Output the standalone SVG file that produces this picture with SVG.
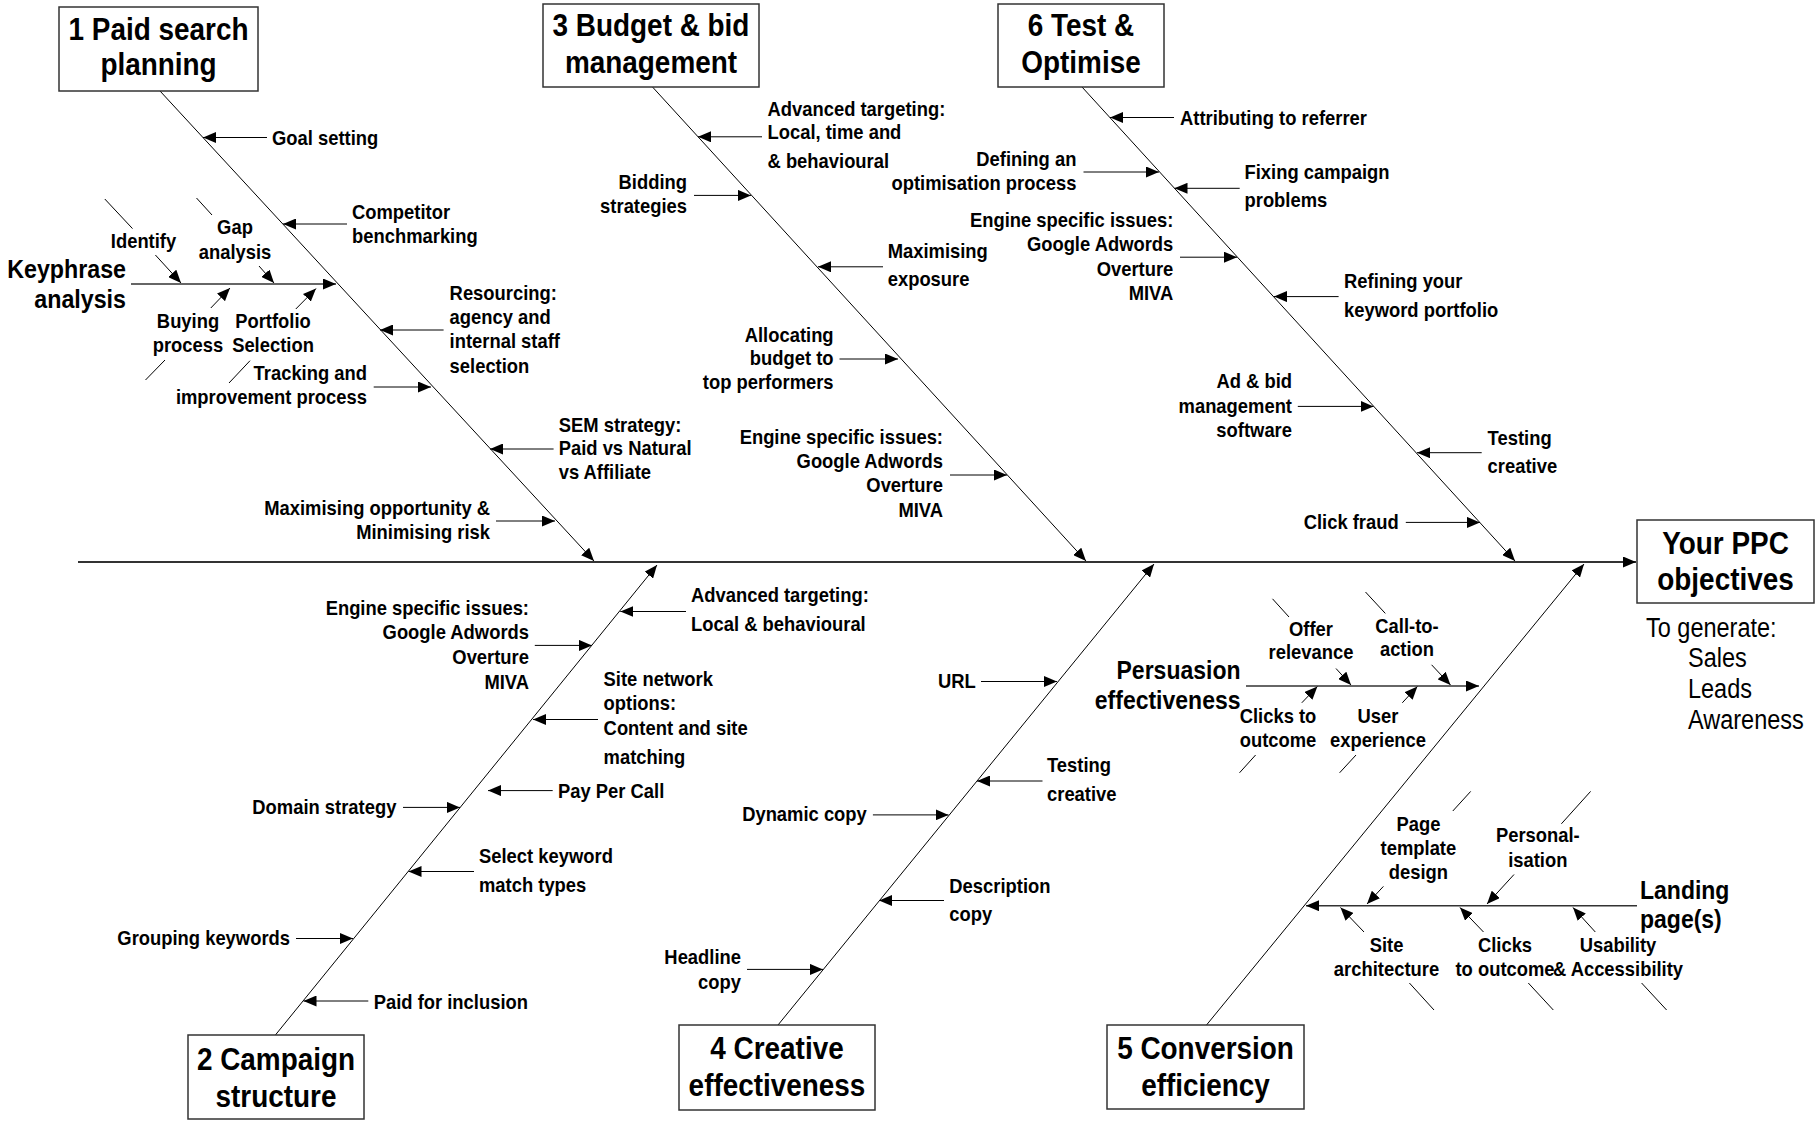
<svg xmlns="http://www.w3.org/2000/svg" width="1816" height="1124" viewBox="0 0 1816 1124">
<style>
text{font-family:"Liberation Sans",Arial,sans-serif;fill:#000}
.t{font-weight:bold;font-size:30.5px;text-anchor:middle}
.l{font-weight:bold;font-size:20px}
.s{font-weight:bold;font-size:25px}
.r{font-size:27px}
.e{text-anchor:end}
.m{text-anchor:middle}
.box{fill:#fff;stroke:#333;stroke-width:1.5}
.c line,.c path{stroke:#000;stroke-width:1;fill:none}
.c .a{marker-end:url(#ah)}
.c .sp{stroke:#333;stroke-width:2}
.c .sub{stroke:#333;stroke-width:1.5}
</style>
<defs>
<marker id="ah" markerWidth="13" markerHeight="11" refX="13" refY="5.5" orient="auto" markerUnits="userSpaceOnUse"><path d="M0,0 L13,5.5 L0,11 z" fill="#000"/></marker>
</defs>
<rect width="1816" height="1124" fill="#fff"/>

<g id="connectors" class="c">
<line class="sp a" x1="78" y1="562" x2="1636" y2="562"/>
<line class="a" x1="160" y1="91" x2="594" y2="561"/>
<line class="a" x1="652.5" y1="87" x2="1086" y2="561"/>
<line class="a" x1="1082" y1="87" x2="1515" y2="561"/>
<line class="a" x1="275.4" y1="1035" x2="657" y2="565"/>
<line class="a" x1="778" y1="1025" x2="1154" y2="564"/>
<line class="a" x1="1206.5" y1="1025" x2="1584" y2="564"/>
<!-- bone 1 -->
<line class="a" x1="267" y1="137.5" x2="203" y2="137.5"/>
<line class="a" x1="347" y1="224" x2="283" y2="224"/>
<line class="a" x1="443.6" y1="330" x2="380" y2="330"/>
<line class="a" x1="373.7" y1="387" x2="431" y2="387"/>
<line class="a" x1="553.6" y1="449" x2="490" y2="449"/>
<line class="a" x1="496" y1="521" x2="555" y2="521"/>
<line class="sub a" x1="131" y1="284" x2="336" y2="284"/>
<line class="a" x1="155.4" y1="255" x2="181" y2="283"/>
<line class="a" x1="259" y1="266" x2="274" y2="283"/>
<line class="a" x1="210.8" y1="308" x2="230" y2="288"/>
<line class="a" x1="295.8" y1="309" x2="316" y2="288.6"/>
<line x1="104.8" y1="199" x2="132.5" y2="228.6"/>
<line x1="196.5" y1="198" x2="212" y2="215"/>
<line x1="165" y1="360" x2="145.5" y2="380"/>
<line x1="250" y1="360.7" x2="229" y2="383"/>
<!-- bone 3 -->
<line class="a" x1="762" y1="136.8" x2="698" y2="136.8"/>
<line class="a" x1="694" y1="195.4" x2="751" y2="195.4"/>
<line class="a" x1="883" y1="266.8" x2="818" y2="266.8"/>
<line class="a" x1="839.5" y1="359" x2="898" y2="359"/>
<line class="a" x1="950" y1="475" x2="1007" y2="475"/>
<!-- bone 6 -->
<line class="a" x1="1174" y1="117.5" x2="1110" y2="117.5"/>
<line class="a" x1="1083.5" y1="172" x2="1159" y2="172"/>
<line class="a" x1="1239.7" y1="188.3" x2="1174.5" y2="188.3"/>
<line class="a" x1="1180" y1="257.2" x2="1237" y2="257.2"/>
<line class="a" x1="1338.6" y1="296.6" x2="1274" y2="296.6"/>
<line class="a" x1="1297.8" y1="406.4" x2="1373.5" y2="406.4"/>
<line class="a" x1="1481.7" y1="452.7" x2="1417" y2="452.7"/>
<line class="a" x1="1405.8" y1="522.4" x2="1480" y2="522.4"/>
<!-- bone 2 -->
<line class="a" x1="534.8" y1="645.4" x2="592" y2="645.4"/>
<line class="a" x1="686" y1="611.5" x2="620.3" y2="611.5"/>
<line class="a" x1="598" y1="719.5" x2="533" y2="719.5"/>
<line class="a" x1="552.7" y1="790.6" x2="488" y2="790.6"/>
<line class="a" x1="403" y1="807.4" x2="460" y2="807.4"/>
<line class="a" x1="474" y1="871.5" x2="408.5" y2="871.5"/>
<line class="a" x1="296" y1="938.5" x2="353" y2="938.5"/>
<line class="a" x1="368.3" y1="1001" x2="303.5" y2="1001"/>
<!-- bone 4 -->
<line class="a" x1="981" y1="681.5" x2="1057" y2="681.5"/>
<line class="a" x1="1042.5" y1="781" x2="977" y2="781"/>
<line class="a" x1="872.9" y1="814.9" x2="948.5" y2="814.9"/>
<line class="a" x1="944" y1="900.5" x2="879" y2="900.5"/>
<line class="a" x1="747" y1="969.4" x2="823" y2="969.4"/>
<!-- bone 5 persuasion -->
<line class="sub a" x1="1246" y1="686" x2="1479" y2="686"/>
<line class="a" x1="1336" y1="668.5" x2="1351" y2="685"/>
<line class="a" x1="1431.6" y1="664.8" x2="1450.5" y2="685"/>
<line class="a" x1="1301.8" y1="702.8" x2="1317.4" y2="686.5"/>
<line class="a" x1="1402.3" y1="702.8" x2="1417.4" y2="686.5"/>
<line x1="1272.5" y1="598.8" x2="1289" y2="617"/>
<line x1="1365.5" y1="592" x2="1385.3" y2="613.4"/>
<line x1="1255.6" y1="755" x2="1239.5" y2="772.8"/>
<line x1="1356" y1="755" x2="1339.6" y2="772.8"/>
<!-- bone 5 landing -->
<line class="sub a" x1="1637" y1="905.7" x2="1306" y2="905.7"/>
<line class="a" x1="1383.4" y1="886.4" x2="1367" y2="904"/>
<line class="a" x1="1514" y1="874.5" x2="1487" y2="904"/>
<line class="a" x1="1364" y1="932" x2="1340.5" y2="907.5"/>
<line class="a" x1="1483.5" y1="932" x2="1460" y2="907.5"/>
<line class="a" x1="1595.3" y1="932" x2="1573" y2="907.5"/>
<line x1="1470.7" y1="791.4" x2="1452.8" y2="811"/>
<line x1="1590.6" y1="791.4" x2="1561.4" y2="823.8"/>
<line x1="1409.4" y1="983" x2="1434" y2="1010"/>
<line x1="1528.3" y1="983" x2="1553.3" y2="1010"/>
<line x1="1641.6" y1="983" x2="1666.6" y2="1010"/>
</g>

<g id="box-1"><rect class="box" x="59" y="7" width="199" height="84"/><text class="t" transform="translate(158.5 40) scale(.915 1)">1 Paid search<tspan x="0" y="35.5">planning</tspan></text></g>
<g id="box-3"><rect class="box" x="543" y="4" width="216" height="83"/><text class="t" transform="translate(651 36) scale(.915 1)">3 Budget &amp; bid<tspan x="0" y="37">management</tspan></text></g>
<g id="box-6"><rect class="box" x="998" y="4" width="166" height="83"/><text class="t" transform="translate(1081 36.4) scale(.915 1)">6 Test &amp;<tspan x="0" y="37">Optimise</tspan></text></g>
<g id="box-2"><rect class="box" x="188" y="1035" width="176" height="84"/><text class="t" transform="translate(276 1070) scale(.915 1)">2 Campaign<tspan x="0" y="37">structure</tspan></text></g>
<g id="box-4"><rect class="box" x="679" y="1025" width="196" height="85"/><text class="t" transform="translate(777 1058.5) scale(.915 1)">4 Creative<tspan x="0" y="37.5">effectiveness</tspan></text></g>
<g id="box-5"><rect class="box" x="1107" y="1025" width="197" height="84"/><text class="t" transform="translate(1205.5 1058.5) scale(.915 1)">5 Conversion<tspan x="0" y="37.5">efficiency</tspan></text></g>
<g id="box-ppc"><rect class="box" x="1637" y="520" width="177" height="83"/><text class="t" transform="translate(1725.5 553.5) scale(.915 1)">Your PPC<tspan x="0" y="36.5">objectives</tspan></text>
<text class="r" transform="translate(1646 637) scale(.87 1)">To generate:</text>
<text class="r" transform="translate(1688 666.5) scale(.87 1)">Sales<tspan x="0" y="31.5">Leads</tspan><tspan x="0" y="63">Awareness</tspan></text></g>

<g id="n-goal"><text class="l" transform="translate(272 144.6) scale(.92 1)">Goal setting</text></g>
<g id="n-competitor"><text class="l" transform="translate(352 218.6) scale(.92 1)">Competitor<tspan x="0" y="24.4">benchmarking</tspan></text></g>
<g id="n-resourcing"><text class="l" transform="translate(449.6 300) scale(.92 1)">Resourcing:<tspan x="0" y="24">agency and</tspan><tspan x="0" y="48">internal staff</tspan><tspan x="0" y="73">selection</tspan></text></g>
<g id="n-tracking"><text class="l e" transform="translate(367 380) scale(.92 1)">Tracking and<tspan x="0" y="24">improvement process</tspan></text></g>
<g id="n-sem"><text class="l" transform="translate(558.7 431.5) scale(.92 1)">SEM strategy:<tspan x="0" y="23.5">Paid vs Natural</tspan><tspan x="0" y="48">vs Affiliate</tspan></text></g>
<g id="n-maxopp"><text class="l e" transform="translate(490 514.5) scale(.92 1)">Maximising opportunity &amp;<tspan x="0" y="25">Minimising risk</tspan></text></g>
<g id="n-keyphrase"><text class="s e" transform="translate(126 278) scale(.93 1)">Keyphrase<tspan x="0" y="30">analysis</tspan></text></g>
<g id="n-identify"><text class="l m" transform="translate(143.5 248) scale(.92 1)">Identify</text></g>
<g id="n-gap"><text class="l m" transform="translate(235 234) scale(.92 1)">Gap<tspan x="0" y="25">analysis</tspan></text></g>
<g id="n-buying"><text class="l m" transform="translate(188 327.5) scale(.92 1)">Buying<tspan x="0" y="25">process</tspan></text></g>
<g id="n-portfolio"><text class="l m" transform="translate(273 328) scale(.92 1)">Portfolio<tspan x="0" y="24.5">Selection</tspan></text></g>

<g id="n-advtarget1"><text class="l" transform="translate(767.5 115.5) scale(.92 1)">Advanced targeting:<tspan x="0" y="24">Local, time and</tspan><tspan x="0" y="53">&amp; behavioural</tspan></text></g>
<g id="n-bidding"><text class="l e" transform="translate(687 188.5) scale(.92 1)">Bidding<tspan x="0" y="25">strategies</tspan></text></g>
<g id="n-maxexp"><text class="l" transform="translate(887.7 257.5) scale(.92 1)">Maximising<tspan x="0" y="28.7">exposure</tspan></text></g>
<g id="n-allocating"><text class="l e" transform="translate(833.6 341.5) scale(.92 1)">Allocating<tspan x="0" y="24">budget to</tspan><tspan x="0" y="48">top performers</tspan></text></g>
<g id="n-engine3"><text class="l e" transform="translate(943 443.5) scale(.92 1)">Engine specific issues:<tspan x="0" y="25">Google Adwords</tspan><tspan x="0" y="49">Overture</tspan><tspan x="0" y="74">MIVA</tspan></text></g>

<g id="n-attributing"><text class="l" transform="translate(1180 125) scale(.92 1)">Attributing to referrer</text></g>
<g id="n-defining"><text class="l e" transform="translate(1076.4 165.8) scale(.92 1)">Defining an<tspan x="0" y="24.7">optimisation process</tspan></text></g>
<g id="n-fixing"><text class="l" transform="translate(1244.5 179.2) scale(.92 1)">Fixing campaign<tspan x="0" y="28">problems</tspan></text></g>
<g id="n-engine6"><text class="l e" transform="translate(1173.3 227) scale(.92 1)">Engine specific issues:<tspan x="0" y="24.1">Google Adwords</tspan><tspan x="0" y="48.9">Overture</tspan><tspan x="0" y="73.1">MIVA</tspan></text></g>
<g id="n-refining"><text class="l" transform="translate(1344 287.5) scale(.92 1)">Refining your<tspan x="0" y="29.9">keyword portfolio</tspan></text></g>
<g id="n-adbid"><text class="l e" transform="translate(1292 387.8) scale(.92 1)">Ad &amp; bid<tspan x="0" y="25.3">management</tspan><tspan x="0" y="49">software</tspan></text></g>
<g id="n-testing6"><text class="l" transform="translate(1487.6 444.5) scale(.92 1)">Testing<tspan x="0" y="28.6">creative</tspan></text></g>
<g id="n-clickfraud"><text class="l e" transform="translate(1398.7 528.5) scale(.92 1)">Click fraud</text></g>

<g id="n-engine2"><text class="l e" transform="translate(529 615) scale(.92 1)">Engine specific issues:<tspan x="0" y="24.2">Google Adwords</tspan><tspan x="0" y="49.5">Overture</tspan><tspan x="0" y="74.5">MIVA</tspan></text></g>
<g id="n-advtarget2"><text class="l" transform="translate(691 602) scale(.92 1)">Advanced targeting:<tspan x="0" y="29.5">Local &amp; behavioural</tspan></text></g>
<g id="n-sitenetwork"><text class="l" transform="translate(603.6 685.5) scale(.92 1)">Site network<tspan x="0" y="24.5">options:</tspan><tspan x="0" y="49.4">Content and site</tspan><tspan x="0" y="78.5">matching</tspan></text></g>
<g id="n-ppcall"><text class="l" transform="translate(558 797.5) scale(.92 1)">Pay Per Call</text></g>
<g id="n-domain"><text class="l e" transform="translate(396.4 814.2) scale(.92 1)">Domain strategy</text></g>
<g id="n-selectkw"><text class="l" transform="translate(479 862.5) scale(.92 1)">Select keyword<tspan x="0" y="30">match types</tspan></text></g>
<g id="n-grouping"><text class="l e" transform="translate(290 944.5) scale(.92 1)">Grouping keywords</text></g>
<g id="n-paidincl"><text class="l" transform="translate(373.7 1009) scale(.92 1)">Paid for inclusion</text></g>

<g id="n-url"><text class="l e" transform="translate(975.7 687.5) scale(.92 1)">URL</text></g>
<g id="n-testing4"><text class="l" transform="translate(1047 771.5) scale(.92 1)">Testing<tspan x="0" y="29.7">creative</tspan></text></g>
<g id="n-dynamic"><text class="l e" transform="translate(866.8 820.5) scale(.92 1)">Dynamic copy</text></g>
<g id="n-description"><text class="l" transform="translate(949.3 892.5) scale(.92 1)">Description<tspan x="0" y="28.6">copy</tspan></text></g>
<g id="n-headline"><text class="l e" transform="translate(741 964) scale(.92 1)">Headline<tspan x="0" y="25.3">copy</tspan></text></g>

<g id="n-persuasion"><text class="s e" transform="translate(1240.5 678.5) scale(.92 1)">Persuasion<tspan x="0" y="30.5">effectiveness</tspan></text></g>
<g id="n-offer"><text class="l m" transform="translate(1311 635.5) scale(.92 1)">Offer<tspan x="0" y="24">relevance</tspan></text></g>
<g id="n-cta"><text class="l m" transform="translate(1407 632.5) scale(.92 1)">Call-to-<tspan x="0" y="24">action</tspan></text></g>
<g id="n-clicks1"><text class="l m" transform="translate(1278 723) scale(.92 1)">Clicks to<tspan x="0" y="24.2">outcome</tspan></text></g>
<g id="n-userexp"><text class="l m" transform="translate(1378 723) scale(.92 1)">User<tspan x="0" y="24.2">experience</tspan></text></g>
<g id="n-landing"><text class="s" transform="translate(1640 899) scale(.92 1)">Landing<tspan x="0" y="29.3">page(s)</tspan></text></g>
<g id="n-pagetemplate"><text class="l m" transform="translate(1418.4 831) scale(.92 1)">Page<tspan x="0" y="24.2">template</tspan><tspan x="0" y="48.5">design</tspan></text></g>
<g id="n-personal"><text class="l m" transform="translate(1537.8 842.2) scale(.92 1)">Personal-<tspan x="0" y="24.9">isation</tspan></text></g>
<g id="n-sitearch"><text class="l m" transform="translate(1386.5 952) scale(.92 1)">Site<tspan x="0" y="24.3">architecture</tspan></text></g>
<g id="n-clicks2"><text class="l m" transform="translate(1505 952) scale(.92 1)">Clicks<tspan x="0" y="24.3">to outcome</tspan></text></g>
<g id="n-usability"><text class="l m" transform="translate(1618 952) scale(.92 1)">Usability<tspan x="0" y="24.3">&amp; Accessibility</tspan></text></g>
</svg>
